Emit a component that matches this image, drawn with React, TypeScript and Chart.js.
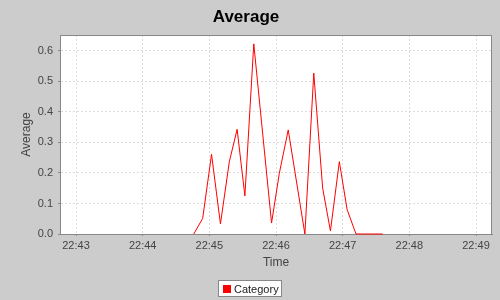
import React, { useEffect, useRef } from "react";
import { Chart, registerables } from "chart.js";

Chart.register(...registerables);

// Time in seconds after 22:43:00
const TIMES_SEC = [106, 114, 122, 130, 138, 145, 152, 160, 176, 183, 191, 206, 214, 222, 229, 237, 244, 252, 276];
const AVERAGES = [0, 0.051, 0.261, 0.033, 0.237, 0.343, 0.125, 0.623, 0.036, 0.199, 0.341, 0, 0.527, 0.15, 0.01, 0.237, 0.08, 0, 0];
const X_TICK_LABELS = ["22:43", "22:44", "22:45", "22:46", "22:47", "22:48", "22:49"];
const Y_TICKS = [0, 0.1, 0.2, 0.3, 0.4, 0.5, 0.6];
const SERIES_NAME = "Category";
const TITLE = "Average";

const FONT = "'Liberation Sans', Arial, Helvetica, sans-serif";

export default function App() {
  const ref = useRef<HTMLCanvasElement>(null);

  useEffect(() => {
    if (!ref.current) return;
    const points = TIMES_SEC.map((t, i) => ({ x: t / 60, y: AVERAGES[i] }));

    const decor = {
      id: "decor",
      beforeDraw(chart: any) {
        const { ctx, chartArea } = chart;
        ctx.save();
        ctx.fillStyle = "#cccccc";
        ctx.fillRect(0, 0, chart.width, chart.height);
        ctx.fillStyle = "#ffffff";
        ctx.fillRect(chartArea.left, chartArea.top, chartArea.right - chartArea.left, chartArea.bottom - chartArea.top);
        ctx.restore();
      },
      beforeDatasetsDraw(chart: any) {
        const { ctx, chartArea } = chart;
        ctx.save();
        ctx.strokeStyle = "#888888";
        ctx.lineWidth = 1;
        ctx.strokeRect(chartArea.left + 0.5, chartArea.top + 0.5, chartArea.right - chartArea.left - 1, chartArea.bottom - chartArea.top);
        ctx.restore();
      },
      afterDraw(chart: any) {
        const { ctx } = chart;
        ctx.save();
        ctx.fillStyle = "#ffffff";
        ctx.fillRect(218.5, 280.5, 63, 16);
        ctx.strokeStyle = "#888888";
        ctx.lineWidth = 1;
        ctx.strokeRect(218.5, 280.5, 63, 16);
        ctx.fillStyle = "#ff0000";
        ctx.fillRect(223, 285, 8, 8);
        ctx.fillStyle = "#222222";
        ctx.font = `11px ${FONT}`;
        ctx.textBaseline = "alphabetic";
        ctx.textAlign = "left";
        ctx.fillText(SERIES_NAME, 234, 293);
        ctx.restore();
      },
    };

    const chart = new Chart(ref.current, {
      type: "line",
      data: {
        datasets: [
          {
            label: SERIES_NAME,
            data: points,
            borderColor: "#ff0000",
            backgroundColor: "#ff0000",
            borderWidth: 1,
            pointRadius: 0,
            tension: 0,
            fill: false,
            clip: 2,
          },
        ],
      },
      options: {
        responsive: false,
        animation: false,
        devicePixelRatio: 1,
        layout: { padding: { left: 0, right: 8, top: 0, bottom: 24 } },
        plugins: {
          legend: { display: false },
          tooltip: { enabled: false },
          title: {
            display: true,
            text: TITLE,
            color: "#000000",
            font: { family: FONT, size: 17, weight: "bold" },
            padding: { top: 7, bottom: 7.6 },
          },
        },
        scales: {
          x: {
            type: "linear",
            min: -0.24,
            max: 6.24,
            afterFit(scale: any) {
              scale.height = 42;
            },
            afterBuildTicks(scale: any) {
              scale.ticks = X_TICK_LABELS.map((_, i) => ({ value: i }));
            },
            ticks: {
              callback: (v: any) => X_TICK_LABELS[Math.round(Number(v))] ?? "",
              color: "#444444",
              font: { family: FONT, size: 11 },
              padding: 3,
              maxRotation: 0,
              autoSkip: false,
            },
            grid: {
              color: "#dcdcdc",
              lineWidth: 1,
              tickLength: 2,
              tickColor: "#888888",
              tickBorderDash: [],
            },
            border: { display: true, color: "#888888", dash: [2, 2] },
            title: {
              display: true,
              text: "Time",
              color: "#444444",
              font: { family: FONT, size: 12 },
              padding: { top: 0, bottom: 6 },
            },
          },
          y: {
            type: "linear",
            min: 0,
            max: 0.652,
            afterFit(scale: any) {
              scale.width = 60;
            },
            afterBuildTicks(scale: any) {
              scale.ticks = Y_TICKS.map((v) => ({ value: v }));
            },
            ticks: {
              callback: (v: any) => Number(v).toFixed(1),
              color: "#444444",
              font: { family: FONT, size: 11 },
              padding: 5,
            },
            grid: {
              color: "#dcdcdc",
              lineWidth: 1,
              tickLength: 2,
              tickColor: "#888888",
              tickBorderDash: [],
            },
            border: { display: true, color: "#888888", dash: [2, 2] },
            title: {
              display: true,
              text: "Average",
              color: "#444444",
              font: { family: FONT, size: 12 },
              padding: { top: 19, bottom: 0 },
            },
          },
        },
      },
      plugins: [decor],
    } as any);

    return () => chart.destroy();
  }, []);

  return (
    <div style={{ position: "fixed", left: 0, top: 0, width: 500, height: 300 }}>
      <canvas ref={ref} width={500} height={300} />
    </div>
  );
}
